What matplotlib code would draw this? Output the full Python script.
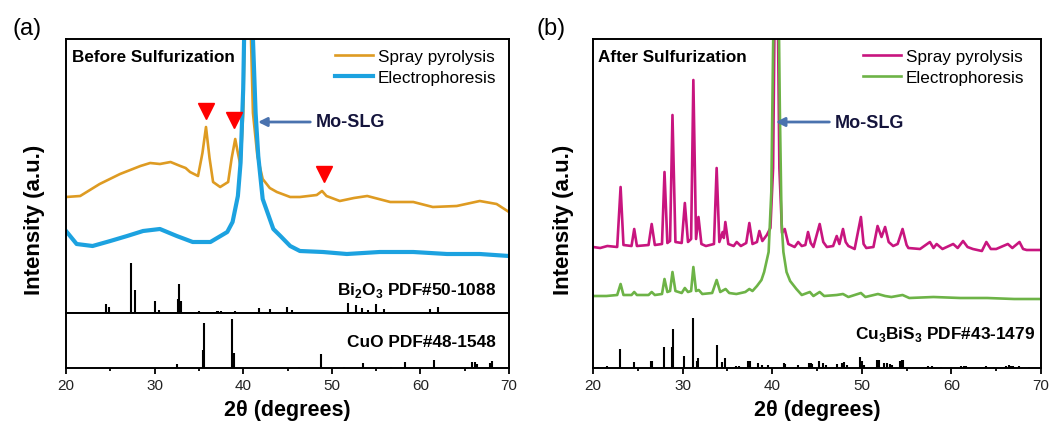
import matplotlib
matplotlib.use('Agg')
import matplotlib.pyplot as plt
import numpy as np
from matplotlib.ticker import MultipleLocator

plt.rcParams['font.family'] = ['Liberation Sans', 'DejaVu Sans']
plt.rcParams['mathtext.fontset'] = 'custom'
plt.rcParams['mathtext.rm'] = 'Liberation Sans'
plt.rcParams['mathtext.bf'] = 'Liberation Sans:bold'

# ---- panel (a): before sulfurization ----
spray_a_x = [20.0, 21.6, 23.8, 26.1, 28.4, 29.5, 30.6, 31.8, 32.9, 33.5, 34.0, 34.9,
             35.4, 35.8, 36.2, 36.6, 37.4, 38.3, 38.7, 39.1, 39.4, 39.7, 40.0, 40.2,
             40.5, 40.8, 41.1, 41.6, 42.2, 43.0, 43.8, 45.3, 46.4, 48.3, 48.9, 49.4,
             50.9, 52.5, 54.0, 56.6, 59.2, 61.4, 64.1, 66.7, 68.6, 70.0]
spray_a_y = [116, 117, 129, 139, 147, 150, 149, 151, 147, 145, 141, 137,
             160, 186, 155, 131, 126, 131, 155, 174, 160, 147, 200, 300,
             450, 300, 200, 157, 134, 125, 121, 116, 116, 118, 122, 117,
             112, 115, 117, 111, 111, 106, 107, 112, 109, 101]

electro_a_x = [20.0, 21.2, 23.0, 25.0, 26.9, 28.7, 30.6, 32.5, 34.3, 36.3, 38.2, 38.8,
               39.4, 39.7, 40.0, 40.1, 40.4, 40.7, 41.1, 41.4, 41.7, 42.2, 43.4, 44.2,
               45.3, 46.4, 49.0, 51.7, 55.4, 59.2, 63.0, 66.7, 70.0]
electro_a_y = [82, 69, 67, 72, 77, 82, 84, 77, 71, 71, 81, 91,
               117, 150, 224, 274, 400, 400, 274, 200, 157, 114, 84, 77,
               67, 62, 61, 59, 61, 61, 59, 59, 57]

marker_x = [35.8, 39.0, 49.15]
marker_y = [202, 193, 139]

bi2o3_pos = [21.1, 21.3, 22.2, 24.5, 24.8, 27.35, 27.75, 30.1, 30.5, 32.6, 32.7, 33.0,
             35.0, 37.0, 37.2, 37.5, 39.05, 41.8, 43.0, 44.9, 45.5, 48.5, 49.1, 51.8,
             52.7, 53.4, 54.1, 55.0, 55.9, 59.4, 60.3, 61.1, 62.0, 63.9, 66.7, 67.6]
bi2o3_int = [2, 2, 2, 18, 12, 100, 46, 24, 6, 28, 58, 24,
             4, 4, 4, 4, 4, 10, 8, 12, 6, 2, 3, 20,
             16, 10, 6, 18, 8, 2, 2, 8, 12, 3, 2, 2]

cuo_pos = [32.5, 35.45, 35.55, 38.75, 38.95, 46.3, 48.75, 51.4, 53.5, 56.7, 58.3,
           61.55, 65.85, 66.2, 66.4, 67.9, 68.1]
cuo_int = [8, 37, 92, 100, 30, 2, 28, 2, 10, 2, 12,
           16, 12, 12, 8, 10, 14]

# ---- panel (b): after sulfurization ----
spray_b_x = [20.0, 20.8, 21.6, 22.7, 23.08, 23.4, 24.3, 24.6, 24.9, 26.2, 26.55, 26.9,
             27.7, 27.98, 28.3, 28.6, 28.87, 29.2, 29.9, 30.25, 30.6, 30.95, 31.2, 31.5,
             31.77, 32.1, 32.6, 33.5, 33.8, 34.1, 34.47, 34.6, 34.77, 35.1, 35.7, 36.04,
             36.5, 37.1, 37.45, 37.8, 38.3, 38.57, 38.9, 39.4, 39.8, 40.1, 40.45, 40.8,
             41.1, 41.4, 41.8, 42.5, 42.9, 43.3, 43.7, 44.0, 44.3, 44.6, 45.3, 45.7,
             46.1, 46.8, 47.2, 47.5, 47.9, 48.2, 48.5, 49.2, 49.9, 50.2, 50.5, 51.3,
             51.76, 52.2, 52.6, 53.0, 53.5, 54.0, 54.55, 55.0, 55.2, 56.5, 57.6, 58.0,
             58.35, 59.0, 60.2, 60.7, 61.3, 61.8, 62.4, 63.4, 63.9, 64.4, 65.0, 66.3,
             66.8, 67.6, 68.0, 68.4, 70.0]
spray_b_y = [121, 120, 122, 121, 181, 123, 122, 139, 122, 123, 144, 123,
             124, 196, 125, 127, 253, 126, 125, 165, 126, 129, 288, 129,
             151, 124, 122, 124, 200, 126, 136, 130, 146, 124, 122, 126,
             122, 125, 145, 124, 126, 137, 127, 133, 140, 200, 520, 200,
             135, 139, 124, 121, 126, 122, 123, 136, 125, 121, 144, 126,
             121, 122, 132, 124, 139, 126, 122, 119, 151, 124, 120, 121,
             142, 131, 141, 126, 122, 124, 139, 123, 120, 119, 126, 120,
             124, 119, 124, 120, 127, 121, 119, 117, 126, 119, 119, 124,
             120, 126, 119, 118, 118]

electro_b_x = [20.0, 21.5, 22.7, 23.08, 23.4, 24.3, 24.6, 24.9, 26.2, 26.55, 26.9, 27.7,
               27.98, 28.3, 28.6, 28.87, 29.2, 29.9, 30.25, 30.6, 30.95, 31.2, 31.5, 31.8,
               32.2, 33.3, 33.8, 34.2, 34.8, 35.2, 36.0, 37.0, 37.45, 37.8, 38.3, 38.8,
               39.1, 39.6, 39.9, 40.1, 40.5, 40.85, 41.05, 41.25, 41.6, 42.0, 42.7, 43.3,
               44.2, 44.6, 45.3, 45.8, 47.2, 47.9, 48.5, 49.9, 50.4, 51.8, 52.6, 53.3,
               54.55, 55.3, 58.0, 61.0, 64.0, 67.0, 70.0]
electro_b_y = [72, 72, 73, 84, 73, 73, 76, 73, 73, 76, 73, 74,
               89, 76, 77, 96, 77, 75, 80, 76, 77, 101, 77, 78,
               74, 75, 88, 76, 79, 75, 74, 76, 79, 77, 82, 88,
               96, 116, 176, 320, 540, 260, 145, 116, 96, 87, 79, 73,
               76, 72, 76, 72, 73, 74, 71, 75, 71, 74, 72, 71,
               73, 70, 71, 70, 70, 69, 69]

cbs_pos = [20.6, 21.6, 23.05, 24.55, 26.5, 26.6, 27.95, 28.8, 28.95, 30.2, 31.2, 31.6,
           31.75, 33.8, 34.45, 34.75, 36.0, 36.3, 37.35, 37.5, 38.4, 38.9, 39.5, 41.3,
           41.4, 42.9, 44.1, 44.3, 44.4, 45.25, 45.7, 46.0, 47.2, 47.8, 48.0, 48.3,
           49.8, 50.0, 50.3, 51.75, 51.95, 52.5, 52.8, 53.2, 53.4, 54.3, 54.45, 54.6,
           57.4, 57.8, 58.8, 60.0, 61.1, 61.4, 61.6, 63.9, 64.8, 66.1, 66.4, 66.7,
           66.9, 67.6, 68.7]
cbs_int = [2, 4, 38, 12, 14, 14, 42, 42, 78, 25, 100, 14,
           20, 46, 12, 20, 4, 4, 14, 14, 10, 6, 6, 10,
           8, 6, 10, 10, 8, 15, 10, 6, 8, 10, 13, 6,
           23, 14, 6, 16, 16, 10, 10, 8, 6, 14, 16, 16,
           4, 4, 2, 2, 4, 4, 4, 4, 2, 4, 6, 5,
           4, 4, 2]

labels = ['Spray pyrolysis', 'Electrophoresis']

W, H = 1051, 427
def fx(px):
    return px / W
def fy(py):
    return 1 - py / H

c_orange = '#DE9B22'
c_blue = '#1CA2E0'
c_mag = '#C8157F'
c_green = '#6DB347'
c_arrow = '#4A72AE'
c_navy = '#14143C'

fig = plt.figure(figsize=(W / 100, H / 100), dpi=100)
a1 = fig.add_axes([fx(66), fy(314), (509 - 66) / W, 274 / H])
a2 = fig.add_axes([fx(66), fy(369), (509 - 66) / W, 55 / H])
b1 = fig.add_axes([fx(593), fy(369), (1041 - 593) / W, 329 / H])

for ax in (a1, a2, b1):
    ax.set_xlim(20, 70)
    ax.set_yticks([])
    for s in ax.spines.values():
        s.set_linewidth(1.4)
for ax in (a2, b1):
    ax.xaxis.set_major_locator(MultipleLocator(10))
    ax.xaxis.set_minor_locator(MultipleLocator(5))
    ax.tick_params(axis='x', which='major', direction='out', length=4.5, width=1.3,
                   labelsize=11, labelcolor='#222222', pad=3)
    ax.tick_params(axis='x', which='minor', direction='out', length=2.5, width=1.3)
    ax.set_xlabel('2θ (degrees)', fontsize=15.5, fontweight='bold', labelpad=5)
a1.set_xticks([])

# (a) spectra
a1.plot(spray_a_x, spray_a_y, color=c_orange, lw=1.9, label=labels[0])
a1.plot(electro_a_x, electro_a_y, color=c_blue, lw=3.0, label=labels[1])
a1.plot(marker_x, marker_y, 'v', color='#FF0000', markersize=11, ls='none')
a1.vlines(bi2o3_pos, 0, np.array(bi2o3_int) * 0.5, color='black', lw=1.5)
a1.set_ylim(0, 274)
a2.vlines(cuo_pos, 0, np.array(cuo_int) * 0.487, color='black', lw=1.5)
a2.set_ylim(0, 55)

a1.annotate('Mo-SLG', xy=(41.67, 191), xytext=(48.2, 191), fontsize=13,
            fontweight='bold', color=c_navy, va='center', ha='left',
            arrowprops=dict(arrowstyle='-|>', color=c_arrow, lw=2,
                            mutation_scale=13, relpos=(0, 0.5), shrinkB=0))
a1.legend(loc='upper left', bbox_to_anchor=(fx(335), fy(50)),
          bbox_transform=fig.transFigure, frameon=False, fontsize=12.3,
          handlelength=2.2, handletextpad=0.3, labelspacing=0.35,
          borderpad=0, borderaxespad=0)

# (b) spectra
b1.plot(spray_b_x, spray_b_y, color=c_mag, lw=1.9, label=labels[0])
b1.plot(electro_b_x, electro_b_y, color=c_green, lw=1.9, label=labels[1])
b1.vlines(cbs_pos, 0, np.array(cbs_int) * 0.497, color='black', lw=1.5)
b1.set_ylim(0, 329)
b1.annotate('Mo-SLG', xy=(40.4, 246), xytext=(47.0, 246), fontsize=13,
            fontweight='bold', color=c_navy, va='center', ha='left',
            arrowprops=dict(arrowstyle='-|>', color=c_arrow, lw=2,
                            mutation_scale=13, relpos=(0, 0.5), shrinkB=0))
b1.legend(loc='upper left', bbox_to_anchor=(fx(863), fy(50)),
          bbox_transform=fig.transFigure, frameon=False, fontsize=12.3,
          handlelength=2.2, handletextpad=0.3, labelspacing=0.35,
          borderpad=0, borderaxespad=0)

# text labels
fig.text(fx(72), fy(58), 'Before Sulfurization', fontsize=12.3, fontweight='bold', va='center')
fig.text(fx(598), fy(58), 'After Sulfurization', fontsize=12.3, fontweight='bold', va='center')
fig.text(fx(496), fy(291), r'Bi$_\mathbf{2}$O$_\mathbf{3}$ PDF#50-1088', fontsize=12.4,
         fontweight='bold', ha='right', va='center')
fig.text(fx(496), fy(343), 'CuO PDF#48-1548', fontsize=12.4, fontweight='bold',
         ha='right', va='center')
fig.text(fx(1035), fy(335), r'Cu$_\mathbf{3}$BiS$_\mathbf{3}$ PDF#43-1479', fontsize=12.4,
         fontweight='bold', ha='right', va='center')
fig.text(fx(27), fy(29), '(a)', fontsize=17, ha='center', va='center')
fig.text(fx(551), fy(29), '(b)', fontsize=17, ha='center', va='center')
fig.text(fx(35), fy(220), 'Intensity (a.u.)', fontsize=16, fontweight='bold',
         rotation=90, ha='center', va='center')
fig.text(fx(563), fy(220), 'Intensity (a.u.)', fontsize=16, fontweight='bold',
         rotation=90, ha='center', va='center')

fig.savefig('out.png', dpi=100)
